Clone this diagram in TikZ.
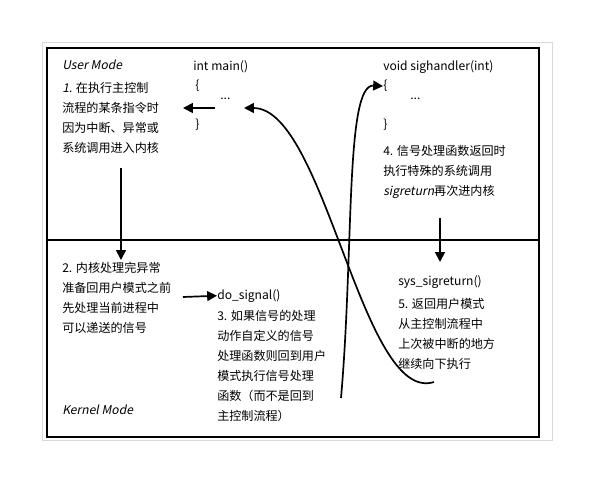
\documentclass[tikz,border=0pt]{standalone}
\usepackage{fontspec}
\setmainfont{Noto Sans CJK SC}
\newfontfamily\slfont[FakeSlant=0.2]{Noto Sans CJK SC}
\usetikzlibrary{arrows.meta}
\begin{document}
\begin{tikzpicture}
  [x=0.025cm,y=-0.025cm,
   every node/.style={anchor=north west,align=left,inner sep=0pt,
     font=\fontsize{8.6}{14.2}\selectfont},
   flow/.style={line width=1.2pt,-{Triangle[length=7pt,width=7pt]}}]
    \useasboundingbox (0,0) rectangle (600,480);
    \draw[black!15] (42,42) rectangle (552,440);
    \draw[line width=1.6pt] (47,48) rectangle (539,437);
    \draw[line width=1.6pt] (47,240) -- (539,240);

    % user mode
    \node (um)  at (62,60)  {\slfont User Mode};
    \node (t1)  at (62,82)  {{\slfont 1.} 在执行主控制\\流程的某条指令时\\因为中断、异常或\\系统调用进入内核};
    \node (mn)  at (193,60) {int main()};
    \node (mo)  at (195,80) {\{};
    \node (md)  at (220,98) {...};
    \node (mc)  at (195,119) {\}};
    \node (sh)  at (383,60) {void sighandler(int)};
    \node (so)  at (383,80) {\{};
    \node (sd)  at (410,98) {...};
    \node (sc)  at (383,119) {\}};
    \node (t4)  at (383,145) {4. 信号处理函数返回时\\执行特殊的系统调用\\{\slfont sigreturn}再次进内核};

    % kernel mode
    \node (t2)  at (62,262) {2. 内核处理完异常\\准备回用户模式之前\\先处理当前进程中\\可以递送的信号};
    \node (ds)  at (217,289) {do\_signal()};
    \node (t3)  at (217,310) {3. 如果信号的处理\\动作自定义的信号\\处理函数则回到用户\\模式执行信号处理\\函数（而不是回到\\主控制流程）};
    \node (km)  at (62,405) {\slfont Kernel Mode};
    \node (sr)  at (398,275) {sys\_sigreturn()};
    \node (t5)  at (398,298) {5. 返回用户模式\\从主控制流程中\\上次被中断的地方\\继续向下执行};

    \coordinate (c1) at (341,398);
    \coordinate (c2) at (434,382);

    \draw[flow] (215,108) -- (183,108);
    \draw[flow] (121,168) -- (121,260);
    \draw[flow] (440,218) -- (440,262);
    \draw[flow] (183,297) -- (ds.west);
    \draw[flow] (c1) .. controls (354,250) and (345,84) .. (so.west);
    \draw[flow] (c2) .. controls (362,405) and (325,108) .. (244,108);
  \end{tikzpicture}
\end{document}
